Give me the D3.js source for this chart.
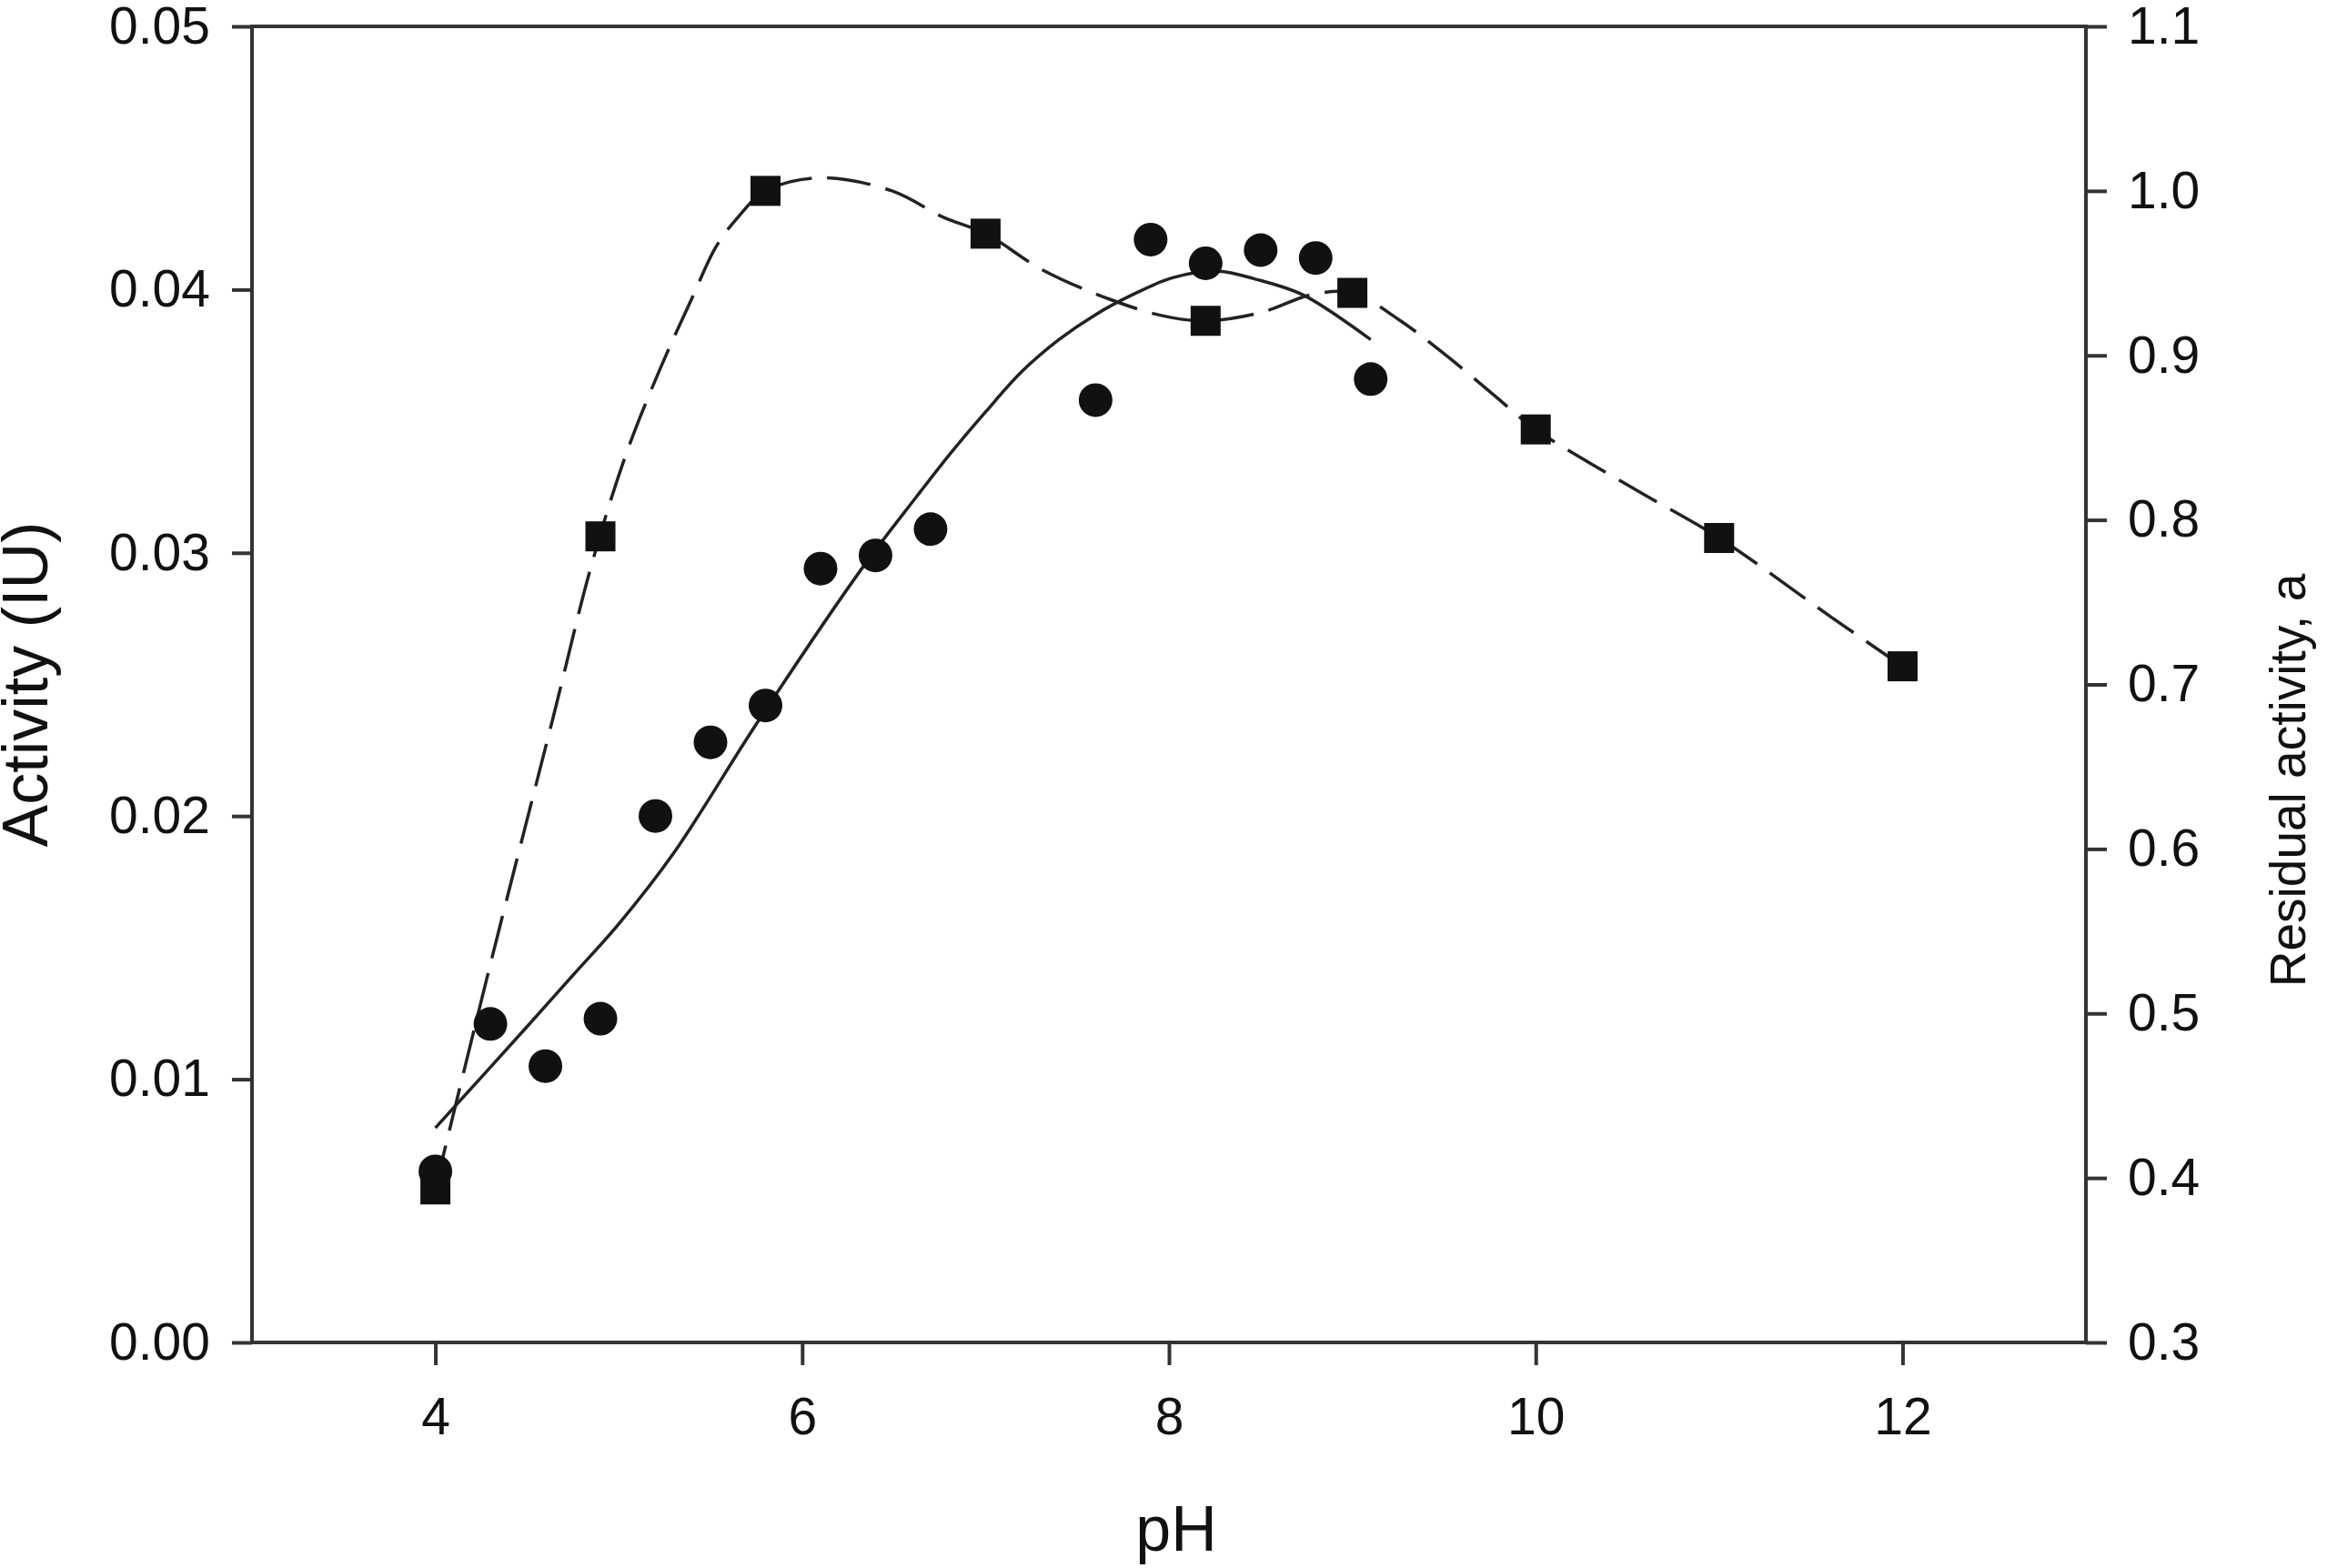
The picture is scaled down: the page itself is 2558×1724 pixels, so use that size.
<!DOCTYPE html>
<html>
<head>
<meta charset="utf-8">
<script src="https://cdn.jsdelivr.net/npm/d3@7"></script>
<style>
  body { margin: 0; background: #fff; }
  svg text { font-family: "Liberation Sans", Arial, sans-serif; fill: #111; }
</style>
</head>
<body>
<div id="chart"></div>
<script>
// pH activity profile: activity (circles, left axis) and residual activity (squares, right axis)

// measured activity (IU)
var actPh = [4.0, 4.3, 4.6, 4.9, 5.2, 5.5, 5.8, 6.1, 6.4, 6.7, 7.6, 7.9, 8.2, 8.5, 8.8, 9.1]
var actVal = [0.0065, 0.0121, 0.0105, 0.0123, 0.0200, 0.0228, 0.0242, 0.0294, 0.0299, 0.0309,
  0.0358, 0.0419, 0.0410, 0.0415, 0.0412, 0.0366]

// residual activity, a
var resPh = [4.0, 4.9, 5.8, 7.0, 8.2, 9.0, 10.0, 11.0, 12.0]
var resVal = [0.393, 0.790, 1.000, 0.974, 0.921, 0.938, 0.855, 0.789, 0.711]

// fitted curve for activity (solid)
var fitActPh = [4.0, 4.5, 4.75, 5.0, 5.3, 5.76, 6.32, 6.62, 6.80, 7.0, 7.2, 7.4, 7.6, 7.8,
  8.02, 8.27, 8.47, 8.73, 9.10]
var fitActVal = [0.00815, 0.0120, 0.01395, 0.0159, 0.0186, 0.0236, 0.02935, 0.0321, 0.0337, 0.03535,
  0.0369, 0.0381, 0.03905, 0.0398, 0.04045, 0.0407, 0.0404, 0.0398, 0.0381]

// spline for residual activity (dashed)
var fitResPh = [4.0, 4.3, 4.64, 4.85, 5.04, 5.23, 5.4, 5.53, 5.65, 5.8, 6.1, 6.49, 6.77, 7.0, 7.31,
  7.68, 7.97, 8.2, 8.5, 8.78, 9.0, 9.25, 9.5, 9.76, 10.0, 10.55, 11.0, 11.61, 12.0]
var fitResVal = [0.394, 0.530, 0.679, 0.772, 0.840, 0.893, 0.935, 0.966, 0.984, 1.000, 1.008, 1.000,
  0.984, 0.974, 0.952, 0.934, 0.924, 0.921, 0.926, 0.937, 0.938, 0.922, 0.901, 0.877, 0.855, 0.818,
  0.789, 0.741, 0.711]

// axes
var xTicks = [4, 6, 8, 10, 12]
var leftTicks = [0, 0.01, 0.02, 0.03, 0.04, 0.05]
var rightTicks = [0.3, 0.4, 0.5, 0.6, 0.7, 0.8, 0.9, 1.0, 1.1]

var W = 2558, H = 1724
var plotLeft = 277, plotRight = 2293, plotTop = 29, plotBottom = 1476

var x = d3.scaleLinear().domain([3, 13]).range([plotLeft, plotRight])
var yL = d3.scaleLinear().domain([0, 0.05]).range([plotBottom, plotTop])
var yR = d3.scaleLinear().domain([0.3, 1.1]).range([plotBottom, plotTop])

var svg = d3.select("#chart").append("svg")
    .attr("width", W)
    .attr("height", H)

svg.append("rect").attr("width", W).attr("height", H).attr("fill", "#fff")

function styleAxis(g, size) {
  g.select(".domain").remove()
  g.selectAll(".tick line").attr("stroke", "#333").attr("stroke-width", 4)
  g.selectAll(".tick text").style("font-size", size + "px").attr("fill", "#111")
}

svg.append("g")
    .attr("transform", "translate(" + plotLeft + ",0)")
    .call(d3.axisLeft(yL).tickValues(leftTicks).tickFormat(d3.format(".2f"))
      .tickSize(22).tickPadding(24))
    .call(styleAxis, 57)

svg.append("g")
    .attr("transform", "translate(" + plotRight + ",0)")
    .call(d3.axisRight(yR).tickValues(rightTicks).tickFormat(d3.format(".1f"))
      .tickSize(23).tickPadding(23))
    .call(styleAxis, 57)

svg.append("g")
    .attr("transform", "translate(0," + plotBottom + ")")
    .call(d3.axisBottom(x).tickValues(xTicks).tickFormat(d3.format("d"))
      .tickSize(25).tickPadding(36))
    .call(styleAxis, 57)

// frame
svg.append("rect")
    .attr("x", plotLeft).attr("y", plotTop)
    .attr("width", plotRight - plotLeft).attr("height", plotBottom - plotTop)
    .attr("fill", "none").attr("stroke", "#333").attr("stroke-width", 4)

// curves
var solidLine = d3.line()
    .x(function(d) { return x(d[0]) })
    .y(function(d) { return yL(d[1]) })
    .curve(d3.curveCatmullRom.alpha(0.5))

var dashLine = d3.line()
    .x(function(d) { return x(d[0]) })
    .y(function(d) { return yR(d[1]) })
    .curve(d3.curveCatmullRom.alpha(0.5))

svg.append("path")
    .datum(d3.zip(fitActPh, fitActVal))
    .attr("d", solidLine)
    .attr("fill", "none").attr("stroke", "#222").attr("stroke-width", 3.5)

svg.append("path")
    .datum(d3.zip(fitResPh, fitResVal))
    .attr("d", dashLine)
    .attr("fill", "none").attr("stroke", "#222").attr("stroke-width", 3.5)
    .attr("stroke-dasharray", "48,17")

// markers
var sq = 33
svg.append("g").selectAll("rect")
    .data(d3.zip(resPh, resVal))
    .enter().append("rect")
    .attr("x", function(d) { return x(d[0]) - sq / 2 })
    .attr("y", function(d) { return yR(d[1]) - sq / 2 })
    .attr("width", sq).attr("height", sq)
    .attr("fill", "#111")

svg.append("g").selectAll("circle")
    .data(d3.zip(actPh, actVal))
    .enter().append("circle")
    .attr("cx", function(d) { return x(d[0]) })
    .attr("cy", function(d) { return yL(d[1]) })
    .attr("r", 18.5)
    .attr("fill", "#111")

// axis titles
svg.append("text")
    .attr("transform", "translate(52," + (plotTop + plotBottom) / 2 + ") rotate(-90)")
    .attr("text-anchor", "middle")
    .style("font-size", "70px")
    .text("Activity (IU)")

svg.append("text")
    .attr("transform", "translate(2534,858) rotate(-90)")
    .attr("text-anchor", "middle")
    .style("font-size", "55px")
    .text("Residual activity, a")

svg.append("text")
    .attr("x", 1293).attr("y", 1705)
    .attr("text-anchor", "middle")
    .style("font-size", "70px")
    .text("pH")
</script>
</body>
</html>
